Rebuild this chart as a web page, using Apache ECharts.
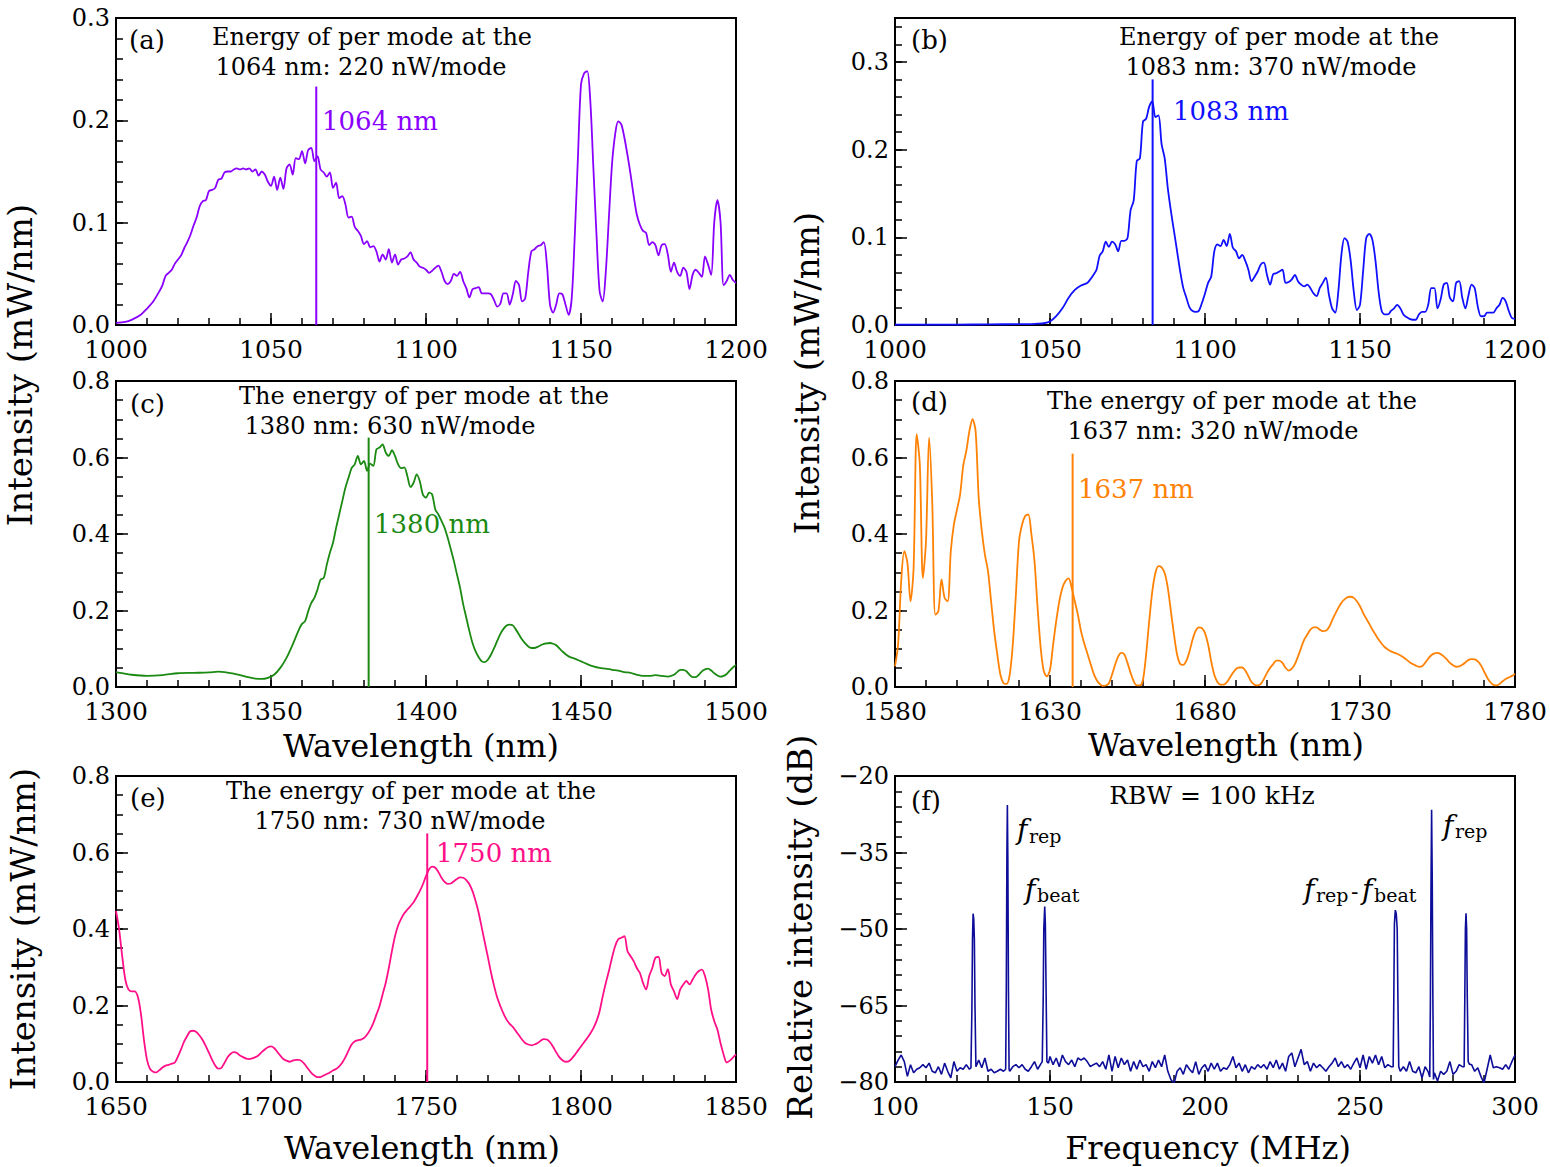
<!DOCTYPE html>
<html><head><meta charset="utf-8">
<script src="https://cdn.jsdelivr.net/npm/echarts@6/dist/echarts.min.js"></script>
<style>html,body{margin:0;padding:0;background:#fff}#c{width:1550px;height:1167px}</style>
</head><body><div id="c"></div>
<script>
const FONT = 'DejaVu Serif';

// ---------- data ----------
const specA = [[1000,.002],[1003,.003],[1005,.005],[1008,.010],[1010,.016],[1012,.023],[1014,.033],[1015,.039],[1016,.048],[1017,.051],[1018,.054],[1019,.060],[1020,.064],[1021,.068],[1022,.075],[1023,.081],[1024,.088],[1025,.097],[1026,.105],[1027,.116],[1028,.121],[1029,.122],[1030,.131],[1031,.132],[1032,.134],[1033,.142],[1034,.143],[1035,.149],[1036,.150],[1037,.150],[1038,.152],[1039,.153],[1040,.152],[1041,.153],[1042,.152],[1043,.153],[1044,.150],[1045,.152],[1046,.146],[1047,.150],[1048,.147],[1049,.140],[1050,.136],[1051,.145],[1052,.132],[1053,.144],[1054,.133],[1055,.153],[1056,.157],[1057,.147],[1058,.163],[1059,.162],[1060,.170],[1061,.158],[1062,.171],[1063,.173],[1064,.160],[1065,.165],[1066,.152],[1067,.149],[1068,.145],[1069,.149],[1070,.134],[1071,.139],[1072,.124],[1073,.126],[1074,.118],[1075,.105],[1076,.106],[1077,.096],[1078,.092],[1079,.087],[1080,.079],[1081,.082],[1082,.076],[1083,.077],[1084,.072],[1085,.062],[1086,.069],[1087,.064],[1088,.074],[1089,.061],[1090,.069],[1091,.059],[1092,.064],[1093,.065],[1094,.067],[1095,.071],[1096,.064],[1097,.061],[1098,.057],[1099,.056],[1100,.054],[1101,.051],[1102,.053],[1103,.056],[1104,.058],[1105,.052],[1106,.043],[1107,.040],[1108,.043],[1109,.050],[1110,.048],[1111,.052],[1112,.043],[1113,.036],[1114,.027],[1115,.035],[1116,.036],[1117,.037],[1118,.031],[1119,.031],[1120,.031],[1121,.030],[1122,.024],[1123,.018],[1124,.021],[1125,.031],[1126,.031],[1127,.020],[1128,.030],[1129,.043],[1130,.039],[1131,.023],[1132,.026],[1133,.052],[1134,.072],[1135,.074],[1136,.077],[1137,.078],[1138,.081],[1139,.059],[1140,.020],[1141,.012],[1142,.020],[1143,.031],[1144,.030],[1145,.020],[1146,.010],[1147,.026],[1148,.088],[1149,.163],[1150,.235],[1151,.246],[1152,.248],[1153,.219],[1154,.153],[1155,.088],[1156,.033],[1157,.023],[1158,.052],[1159,.105],[1160,.157],[1161,.186],[1162,.199],[1163,.196],[1164,.183],[1165,.166],[1166,.147],[1167,.126],[1168,.108],[1169,.098],[1170,.092],[1171,.090],[1172,.078],[1173,.081],[1174,.078],[1175,.068],[1176,.078],[1177,.079],[1178,.069],[1179,.052],[1180,.061],[1181,.052],[1182,.048],[1183,.056],[1184,.052],[1185,.035],[1186,.049],[1187,.054],[1188,.051],[1189,.047],[1190,.067],[1191,.059],[1192,.049],[1193,.101],[1194,.122],[1195,.101],[1196,.039],[1197,.043],[1198,.049],[1199,.044],[1200,.041]];

const specB = [[1000,.0005],[1010,.0005],[1020,.0005],[1030,.0007],[1040,.001],[1043,.001],[1046,.0015],[1048,.002],[1050,.004],[1052,.010],[1054,.019],[1056,.031],[1058,.040],[1060,.045],[1062,.048],[1063,.052],[1064,.057],[1065,.063],[1066,.079],[1067,.084],[1068,.095],[1069,.089],[1070,.095],[1071,.092],[1072,.084],[1073,.096],[1074,.096],[1075,.099],[1076,.131],[1077,.142],[1078,.187],[1079,.190],[1080,.232],[1081,.235],[1082,.249],[1083,.255],[1084,.237],[1085,.239],[1086,.206],[1087,.190],[1088,.156],[1089,.130],[1090,.107],[1091,.084],[1092,.061],[1093,.042],[1094,.031],[1095,.020],[1096,.016],[1097,.015],[1098,.016],[1099,.025],[1100,.036],[1101,.048],[1102,.055],[1103,.084],[1104,.092],[1105,.090],[1106,.097],[1107,.090],[1108,.104],[1109,.088],[1110,.084],[1111,.076],[1112,.080],[1113,.073],[1114,.063],[1115,.050],[1116,.055],[1117,.061],[1118,.069],[1119,.071],[1120,.057],[1121,.046],[1122,.058],[1123,.059],[1124,.061],[1125,.063],[1126,.048],[1127,.049],[1128,.052],[1129,.057],[1130,.050],[1131,.046],[1132,.044],[1133,.046],[1134,.042],[1135,.036],[1136,.033],[1137,.042],[1138,.048],[1139,.054],[1140,.034],[1141,.019],[1142,.014],[1143,.038],[1144,.080],[1145,.099],[1146,.095],[1147,.073],[1148,.038],[1149,.017],[1150,.023],[1151,.061],[1152,.099],[1153,.104],[1154,.097],[1155,.073],[1156,.038],[1157,.016],[1158,.012],[1159,.012],[1160,.016],[1161,.019],[1162,.023],[1163,.019],[1164,.012],[1165,.009],[1166,.007],[1167,.006],[1168,.006],[1169,.012],[1170,.015],[1171,.015],[1172,.023],[1173,.042],[1174,.042],[1175,.019],[1176,.029],[1177,.046],[1178,.048],[1179,.031],[1180,.027],[1181,.048],[1182,.050],[1183,.031],[1184,.019],[1185,.034],[1186,.046],[1187,.042],[1188,.021],[1189,.010],[1190,.010],[1191,.014],[1192,.014],[1193,.014],[1194,.019],[1195,.023],[1196,.031],[1197,.027],[1198,.016],[1199,.008],[1200,.007]];

const specC = [[1300,.039],[1302,.036],[1305,.032],[1310,.029],[1315,.031],[1320,.036],[1325,.037],[1330,.038],[1333,.040],[1335,.039],[1338,.035],[1340,.031],[1343,.025],[1345,.022],[1347,.021],[1349,.024],[1351,.032],[1353,.050],[1355,.076],[1357,.111],[1359,.150],[1360,.165],[1361,.172],[1362,.198],[1363,.220],[1364,.233],[1365,.255],[1366,.281],[1367,.285],[1368,.320],[1369,.351],[1370,.377],[1371,.416],[1372,.451],[1373,.486],[1374,.521],[1375,.547],[1376,.572],[1377,.582],[1378,.604],[1379,.582],[1380,.591],[1381,.565],[1382,.584],[1383,.578],[1384,.621],[1385,.626],[1386,.634],[1387,.613],[1388,.604],[1389,.619],[1390,.604],[1391,.582],[1392,.572],[1393,.574],[1394,.551],[1395,.523],[1396,.534],[1397,.556],[1398,.538],[1399,.503],[1400,.495],[1401,.508],[1402,.503],[1403,.464],[1404,.451],[1405,.434],[1406,.416],[1407,.390],[1408,.360],[1409,.329],[1410,.294],[1411,.259],[1412,.216],[1413,.181],[1414,.146],[1415,.115],[1416,.093],[1417,.078],[1418,.067],[1419,.065],[1420,.072],[1421,.085],[1422,.102],[1423,.121],[1424,.139],[1425,.152],[1426,.161],[1427,.163],[1428,.161],[1429,.150],[1430,.137],[1431,.124],[1432,.114],[1433,.106],[1434,.102],[1435,.102],[1436,.105],[1437,.109],[1438,.113],[1439,.114],[1440,.115],[1441,.113],[1442,.109],[1444,.093],[1446,.080],[1448,.074],[1450,.067],[1452,.060],[1454,.054],[1456,.050],[1458,.048],[1460,.045],[1462,.043],[1464,.039],[1466,.037],[1468,.032],[1470,.029],[1472,.029],[1474,.031],[1476,.029],[1478,.027],[1480,.032],[1481,.039],[1482,.045],[1483,.045],[1484,.041],[1485,.032],[1486,.026],[1487,.026],[1488,.032],[1489,.041],[1490,.046],[1491,.048],[1492,.043],[1493,.036],[1494,.030],[1495,.027],[1496,.029],[1497,.034],[1498,.043],[1499,.051],[1500,.058]];

const specD = [[1580,.054],[1581,.111],[1582,.277],[1583,.355],[1584,.325],[1585,.224],[1586,.312],[1587,.661],[1588,.582],[1589,.285],[1590,.381],[1591,.652],[1592,.486],[1593,.189],[1594,.198],[1595,.281],[1596,.233],[1597,.224],[1598,.355],[1599,.425],[1600,.464],[1601,.503],[1602,.578],[1603,.617],[1604,.669],[1605,.700],[1606,.669],[1607,.495],[1608,.408],[1609,.346],[1610,.303],[1611,.224],[1612,.146],[1613,.085],[1614,.032],[1615,.010],[1616,.008],[1617,.032],[1618,.111],[1619,.242],[1620,.381],[1621,.425],[1622,.447],[1623,.451],[1624,.399],[1625,.329],[1626,.207],[1627,.102],[1628,.041],[1629,.028],[1630,.045],[1631,.111],[1632,.172],[1633,.224],[1634,.259],[1635,.277],[1636,.284],[1637,.259],[1638,.224],[1639,.189],[1640,.146],[1641,.115],[1642,.089],[1643,.063],[1644,.037],[1645,.019],[1646,.008],[1647,.003],[1648,.004],[1649,.010],[1650,.032],[1651,.058],[1652,.080],[1653,.089],[1654,.085],[1655,.063],[1656,.037],[1657,.015],[1658,.004],[1659,.004],[1660,.019],[1661,.085],[1662,.172],[1663,.250],[1664,.298],[1665,.316],[1666,.313],[1667,.298],[1668,.259],[1669,.198],[1670,.137],[1671,.085],[1672,.060],[1673,.058],[1674,.069],[1675,.093],[1676,.124],[1677,.147],[1678,.156],[1679,.154],[1680,.141],[1681,.111],[1682,.067],[1683,.032],[1684,.013],[1685,.006],[1686,.006],[1687,.012],[1688,.024],[1689,.037],[1690,.047],[1691,.051],[1692,.051],[1693,.043],[1694,.028],[1695,.013],[1696,.006],[1697,.004],[1698,.008],[1699,.021],[1700,.037],[1701,.050],[1702,.060],[1703,.069],[1704,.069],[1705,.063],[1706,.050],[1707,.043],[1708,.048],[1709,.060],[1710,.080],[1711,.102],[1712,.124],[1713,.137],[1714,.150],[1715,.156],[1716,.156],[1717,.150],[1718,.146],[1719,.147],[1720,.156],[1721,.174],[1722,.191],[1723,.207],[1724,.220],[1725,.229],[1726,.235],[1727,.236],[1728,.233],[1729,.224],[1730,.211],[1731,.194],[1732,.179],[1733,.165],[1734,.150],[1735,.137],[1736,.124],[1737,.113],[1738,.104],[1739,.098],[1740,.093],[1742,.087],[1744,.078],[1746,.065],[1748,.056],[1749,.053],[1750,.054],[1751,.063],[1752,.074],[1753,.083],[1754,.088],[1755,.089],[1756,.086],[1757,.080],[1758,.072],[1759,.063],[1760,.057],[1761,.053],[1762,.054],[1763,.058],[1764,.064],[1765,.071],[1766,.073],[1767,.072],[1768,.067],[1769,.057],[1770,.041],[1771,.025],[1772,.013],[1773,.006],[1774,.004],[1775,.008],[1776,.015],[1777,.021],[1778,.025],[1779,.029],[1780,.034]];

const specE = [[1650,.447],[1651,.399],[1652,.329],[1653,.268],[1654,.242],[1655,.237],[1656,.237],[1657,.224],[1658,.181],[1659,.111],[1660,.058],[1661,.034],[1662,.027],[1663,.025],[1664,.031],[1665,.038],[1666,.043],[1667,.045],[1668,.048],[1669,.051],[1670,.067],[1671,.086],[1672,.106],[1673,.121],[1674,.133],[1675,.134],[1676,.130],[1677,.121],[1678,.109],[1679,.093],[1680,.076],[1681,.058],[1682,.043],[1683,.035],[1684,.037],[1685,.050],[1686,.065],[1687,.074],[1688,.078],[1689,.076],[1690,.069],[1691,.065],[1692,.061],[1693,.060],[1694,.062],[1695,.065],[1696,.070],[1697,.078],[1698,.085],[1699,.091],[1700,.093],[1701,.089],[1702,.079],[1703,.069],[1704,.060],[1705,.056],[1706,.053],[1707,.056],[1708,.058],[1709,.058],[1710,.054],[1711,.045],[1712,.034],[1713,.024],[1714,.017],[1715,.013],[1716,.013],[1717,.017],[1718,.021],[1719,.025],[1720,.030],[1721,.034],[1722,.041],[1723,.051],[1724,.065],[1725,.082],[1726,.098],[1727,.106],[1728,.109],[1729,.111],[1730,.115],[1731,.124],[1732,.137],[1733,.154],[1734,.176],[1735,.198],[1736,.229],[1737,.259],[1738,.298],[1739,.342],[1740,.381],[1741,.409],[1742,.427],[1743,.441],[1744,.451],[1745,.460],[1746,.470],[1747,.484],[1748,.499],[1749,.517],[1750,.538],[1751,.556],[1752,.563],[1753,.560],[1754,.549],[1755,.534],[1756,.523],[1757,.518],[1758,.519],[1759,.525],[1760,.531],[1761,.535],[1762,.534],[1763,.528],[1764,.517],[1765,.499],[1766,.473],[1767,.442],[1768,.403],[1769,.364],[1770,.325],[1771,.285],[1772,.250],[1773,.220],[1774,.198],[1775,.179],[1776,.163],[1777,.152],[1778,.144],[1779,.133],[1780,.122],[1781,.111],[1782,.102],[1783,.098],[1784,.096],[1785,.098],[1786,.102],[1787,.108],[1788,.112],[1789,.111],[1790,.104],[1791,.092],[1792,.078],[1793,.065],[1794,.057],[1795,.053],[1796,.054],[1797,.061],[1798,.071],[1799,.082],[1800,.093],[1801,.104],[1802,.115],[1803,.127],[1804,.141],[1805,.159],[1806,.185],[1807,.224],[1808,.259],[1809,.290],[1810,.325],[1811,.355],[1812,.373],[1813,.377],[1814,.381],[1815,.342],[1816,.329],[1817,.316],[1818,.298],[1819,.285],[1820,.259],[1821,.242],[1822,.277],[1823,.298],[1824,.325],[1825,.327],[1826,.285],[1827,.277],[1828,.295],[1829,.255],[1830,.237],[1831,.217],[1832,.242],[1833,.255],[1834,.264],[1835,.255],[1836,.268],[1837,.281],[1838,.290],[1839,.294],[1840,.277],[1841,.242],[1842,.189],[1843,.159],[1844,.137],[1845,.102],[1846,.072],[1847,.051],[1848,.056],[1849,.064],[1850,.072]];

const specF = [[100,-77.0],[101,-75.7],[102,-74.7],[103,-76.0],[104,-78.9],[105,-76.6],[106,-78.2],[107,-77.5],[108,-77.2],[109,-76.6],[110,-77.2],[111,-76.3],[112,-77.9],[113,-78.2],[114,-77.0],[115,-78.5],[116,-76.3],[117,-77.9],[118,-79.2],[119,-76.0],[120,-77.9],[121,-77.2],[122,-77.5],[123,-76.6],[124,-77.5],[124.5,-77.2],[124.8,-66],[125.0,-52],[125.2,-47.0],[125.4,-48],[125.6,-52],[125.8,-65],[126.1,-77],[127,-75.7],[128,-77.2],[129,-75.3],[130,-77.9],[131,-77.5],[132,-78.2],[133,-77.9],[134,-77.5],[135,-77.9],[135.7,-77.5],[135.9,-62],[136.1,-35],[136.25,-25.7],[136.4,-36],[136.6,-62],[136.8,-77.5],[137,-77.9],[138,-77.0],[139,-76.6],[140,-77.2],[141,-76.6],[142,-77.5],[143,-77.9],[144,-77.0],[145,-76.0],[146,-77.5],[147,-76.5],[147.5,-76],[147.8,-64],[148.0,-50],[148.3,-45.6],[148.5,-49],[148.7,-60],[149.0,-76],[149.5,-76.3],[150,-75.0],[151,-76.6],[152,-75.3],[153,-77.0],[154,-74.7],[155,-76.0],[156,-76.6],[157,-75.7],[158,-77.0],[159,-75.3],[160,-75.7],[161,-75.3],[162,-76.0],[163,-77.0],[164,-76.6],[165,-76.3],[166,-77.0],[167,-76.0],[168,-77.5],[169,-74.7],[170,-77.9],[171,-75.0],[172,-77.2],[173,-75.3],[174,-76.6],[175,-75.7],[176,-77.9],[177,-76.0],[178,-77.5],[179,-75.7],[180,-77.0],[181,-76.6],[182,-77.9],[183,-76.0],[184,-77.2],[185,-75.7],[186,-77.0],[187,-74.7],[188,-77.9],[189,-79.5],[190,-80.3],[191,-77.9],[192,-77.2],[193,-78.5],[194,-76.6],[195,-77.5],[196,-78.2],[197,-76.0],[198,-78.5],[199,-77.2],[200,-76.6],[201,-77.9],[202,-76.3],[203,-77.5],[204,-76.3],[205,-77.9],[206,-77.2],[207,-77.5],[208,-76.6],[209,-75.0],[210,-77.2],[211,-76.3],[212,-77.9],[213,-76.6],[214,-78.2],[215,-77.0],[216,-77.5],[217,-76.6],[218,-77.2],[219,-76.6],[220,-77.5],[221,-76.0],[222,-77.2],[223,-75.7],[224,-77.5],[225,-76.3],[226,-77.9],[227,-75.0],[228,-74.3],[229,-77.0],[230,-75.3],[231,-73.6],[232,-76.6],[233,-76.0],[234,-77.9],[235,-76.3],[236,-77.2],[237,-76.6],[238,-77.2],[239,-77.9],[240,-77.0],[241,-76.3],[242,-75.3],[243,-77.0],[244,-76.0],[245,-77.2],[246,-76.6],[247,-77.5],[248,-76.3],[249,-75.3],[250,-77.2],[251,-74.7],[252,-77.5],[253,-75.0],[254,-76.3],[255,-74.7],[256,-76.6],[257,-75.0],[258,-77.2],[259,-76.6],[260,-77.0],[260.7,-77],[260.9,-64],[261.1,-49],[261.4,-46.3],[261.7,-47],[262.0,-50],[262.2,-62],[262.5,-77],[263,-77.9],[264,-77.0],[265,-77.9],[266,-76.0],[267,-77.9],[268,-78.2],[269,-77.0],[270,-79.2],[271,-77.0],[272,-78.0],[272.5,-79],[272.7,-65],[272.9,-42],[273.1,-26.6],[273.3,-40],[273.5,-63],[273.7,-79.5],[274,-78.2],[275,-79.8],[276,-77.9],[277,-78.5],[278,-77.9],[279,-76.0],[280,-78.5],[281,-77.9],[282,-76.6],[283,-77.0],[283.6,-77],[283.8,-64],[284.0,-50],[284.2,-46.9],[284.4,-50],[284.6,-63],[284.9,-76],[285.3,-76.5],[286,-76.6],[287,-77.9],[288,-77.2],[289,-78.9],[290,-80.2],[291,-77.5],[292,-74.7],[293,-77.2],[294,-77.0],[295,-77.2],[296,-77.5],[297,-76.6],[298,-77.5],[299,-76.0],[300,-74.7]];

// marker lines: [wavelength, top value]
const markA = [1064.6, 0.233];
const markB = [1083.1, 0.280];
const markC = [1381.5, 0.652];
const markD = [1637.3, 0.610];
const markE = [1750.4, 0.650];

// axis ranges [min, max, major, minor]
const xRanges = [[1000,1200,50,10],[1000,1200,50,10],[1300,1500,50,10],[1580,1780,50,10],[1650,1850,50,10],[100,300,50,10]];
const yRanges = [[0,0.3,0.1,0.02],[0,0.35,0.1,0.02],[0,0.8,0.2,0.05],[0,0.8,0.2,0.05],[0,0.8,0.2,0.05],[-80,-20,15,3]];
const colors = ['#8a00ff','#1010ff','#1b8a12','#ff8205','#ff1088','#0d0d9a'];
const grids = [[116,18,620,307],[895,18,620,307],[116,381,620,306],[895,381,620,306],[116,776,620,306],[895,776,620,306]];

// ---------- build ----------
const specs = [specA, specB, specC, specD, specE, specF];
const marks = [markA, markB, markC, markD, markE, null];

const yFmt = [
  v => (Math.abs(v*10 - Math.round(v*10)) < 1e-6 ? v.toFixed(1) : ''),
  v => (Math.abs(v*10 - Math.round(v*10)) < 1e-6 ? v.toFixed(1) : ''),
  v => v.toFixed(1), v => v.toFixed(1), v => v.toFixed(1),
  v => (v < 0 ? '\u2212' + Math.abs(v) : String(v))
];

const gridOpt = [], xAxes = [], yAxes = [], series = [];
grids.forEach((g, i) => {
  gridOpt.push({left:g[0], top:g[1], width:g[2], height:g[3], show:true, borderColor:'#000', borderWidth:2, backgroundColor:'rgba(0,0,0,0)', containLabel:false});
  const xr = xRanges[i], yr = yRanges[i];
  xAxes.push({type:'value', gridIndex:i, position:'bottom', min:xr[0], max:xr[1], interval:xr[2],
    axisLine:{show:false}, splitLine:{show:false},
    axisTick:{show:true, inside:true, length:12, lineStyle:{color:'#000', width:1.5}},
    axisLabel:{show:true, margin:12, color:'#000', fontFamily:FONT, fontSize:25, formatter: v => String(v)}});
  xAxes.push({type:'value', gridIndex:i, position:'bottom', min:xr[0], max:xr[1], interval:xr[3],
    axisLine:{show:false}, splitLine:{show:false}, axisLabel:{show:false},
    axisTick:{show:true, inside:true, length:7, lineStyle:{color:'#000', width:1.5}}});
  yAxes.push({type:'value', gridIndex:i, position:'left', min:yr[0], max:yr[1], interval:yr[2],
    axisLine:{show:false}, splitLine:{show:false},
    axisTick:{show:true, inside:true, length:12, lineStyle:{color:'#000', width:1.5}},
    axisLabel:{show:true, margin:6, color:'#000', fontFamily:FONT, fontSize:24, formatter: yFmt[i]}});
  yAxes.push({type:'value', gridIndex:i, position:'left', min:yr[0], max:yr[1], interval:yr[3],
    axisLine:{show:false}, splitLine:{show:false}, axisLabel:{show:false},
    axisTick:{show:true, inside:true, length:7, lineStyle:{color:'#000', width:1.5}}});
  series.push({type:'line', xAxisIndex:2*i, yAxisIndex:2*i, data:specs[i], showSymbol:false, symbol:'none',
    smooth: i === 5 ? false : 0.3, lineStyle:{color:colors[i], width: i === 5 ? 1.6 : 1.8}, clip:true, z:3});
  if (marks[i]) {
    series.push({type:'line', xAxisIndex:2*i, yAxisIndex:2*i, data:[[marks[i][0],0],[marks[i][0],marks[i][1]]],
      showSymbol:false, symbol:'none', lineStyle:{color:colors[i], width:2}, z:4});
  }
});

function txt(x, y, s, size, opts) {
  opts = opts || {};
  return {type:'text', x:x, y:y, rotation: opts.rot || 0, z:10,
    style:{text:s, fontFamily:FONT, fontSize:size, fontStyle: opts.italic ? 'italic' : 'normal',
      fill: opts.color || '#000', align: opts.align || 'center', verticalAlign:'middle'}};
}
const R = Math.PI/2;
const graphic = [
  // axis titles
  txt(20, 365, 'Intensity (mW/nm)', 34, {rot:R}),
  txt(807, 373, 'Intensity (mW/nm)', 34, {rot:R}),
  txt(23, 929, 'Intensity (mW/nm)', 34, {rot:R}),
  txt(800, 927, 'Relative intensity (dB)', 34, {rot:R}),
  txt(421, 746, 'Wavelength (nm)', 32),
  txt(1226, 745, 'Wavelength (nm)', 32),
  txt(422, 1148, 'Wavelength (nm)', 32),
  txt(1208, 1148, 'Frequency (MHz)', 32),
  // panel labels
  txt(129, 40, '(a)', 26, {align:'left'}),
  txt(911, 40, '(b)', 26, {align:'left'}),
  txt(130, 404, '(c)', 26, {align:'left'}),
  txt(911, 402, '(d)', 26, {align:'left'}),
  txt(130, 798, '(e)', 26, {align:'left'}),
  txt(911, 801, '(f)', 26, {align:'left'}),
  // in-panel notes
  txt(372, 37, 'Energy of per mode at the', 24),
  txt(361, 67, '1064 nm: 220 nW/mode', 24),
  txt(1279, 37, 'Energy of per mode at the', 24),
  txt(1271, 67, '1083 nm: 370 nW/mode', 24),
  txt(424, 396, 'The energy of per mode at the', 24),
  txt(390, 426, '1380 nm: 630 nW/mode', 24),
  txt(1232, 401, 'The energy of per mode at the', 24),
  txt(1213, 431, '1637 nm: 320 nW/mode', 24),
  txt(411, 791, 'The energy of per mode at the', 24),
  txt(400, 821, '1750 nm: 730 nW/mode', 24),
  txt(1212, 795, 'RBW = 100 kHz', 25),
  // coloured wavelength tags
  txt(322, 121, '1064 nm', 26, {align:'left', color:colors[0]}),
  txt(1173, 111, '1083 nm', 26, {align:'left', color:colors[1]}),
  txt(374, 524, '1380 nm', 26, {align:'left', color:colors[2]}),
  txt(1078, 489, '1637 nm', 26, {align:'left', color:colors[3]}),
  txt(436, 853, '1750 nm', 26, {align:'left', color:colors[4]}),
  // frequency labels
  txt(1017, 829, 'f', 28, {align:'left', italic:true}),
  txt(1029, 836, 'rep', 19, {align:'left'}),
  txt(1025, 889, 'f', 28, {align:'left', italic:true}),
  txt(1037, 895, 'beat', 19, {align:'left'}),
  txt(1304, 889, 'f', 28, {align:'left', italic:true}),
  txt(1316, 895, 'rep', 19, {align:'left'}),
  txt(1351, 891, '-', 22, {align:'left'}),
  txt(1362, 889, 'f', 28, {align:'left', italic:true}),
  txt(1374, 895, 'beat', 19, {align:'left'}),
  txt(1443, 825, 'f', 28, {align:'left', italic:true}),
  txt(1455, 831, 'rep', 19, {align:'left'})
];

const chart = echarts.init(document.getElementById('c'), null, {renderer:'svg', width:1550, height:1167});
chart.setOption({animation:false, backgroundColor:'#fff', grid:gridOpt, xAxis:xAxes, yAxis:yAxes, series:series, graphic:graphic});
</script>
</body></html>
